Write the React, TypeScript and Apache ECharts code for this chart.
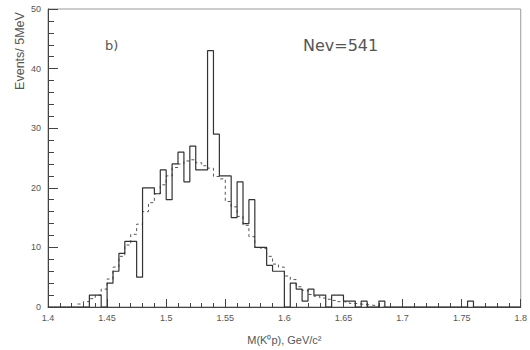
import React, { useEffect, useRef } from "react";
import * as echarts from "echarts";

// Histogram binning (GeV/c^2)
const binStart = 1.4;
const binWidth = 0.005;

// Data histogram: events per 5 MeV bin, bins 0..79 (1.400 - 1.800)
const dataCounts = [
  0, 0, 0, 0, 0, 0, 0, 2, 2, 0,
  4, 6, 9, 11, 11, 5, 20, 20, 19, 23,
  18, 24, 26, 21, 27, 23, 23, 43, 29, 22,
  22, 15, 21, 14, 18, 10, 10, 7, 6, 6,
  0, 4, 3, 1, 3, 2, 2, 0, 2, 2,
  1, 1, 0, 1, 0, 0, 1, 0, 0, 0,
  0, 0, 0, 0, 0, 0, 0, 0, 0, 0,
  0, 1, 0, 0, 0, 0, 0, 0, 0, 0,
];

// Dashed (simulation) histogram, starting at bin index dashedFirstBin
const dashedFirstBin = 5;
const dashedCounts = [
  0.5, 0.9, 1.4, 2.0, 3.0,
  4.7, 6.7, 8.5, 10.4, 12.2, 13.9, 16, 17.5, 19, 20.5,
  22, 23.4, 24, 24.5, 24.7, 24.2, 23.7, 23.3, 21.9, 21.5,
  17.7, 16.8, 15.2, 13.7, 11.8, 10, 9.8, 8.5, 7.2, 6.7,
  5.2, 4.6, 3.4, 2.8, 2.1, 1.8, 1.5, 1.3, 1.1, 0.9,
  0.8, 0.6, 0.5, 0.4, 0.3, 0.2, 0,
];

const xTicks = { min: 1.4, max: 1.8, interval: 0.05 };
const yTicks = { min: 0, max: 50, interval: 10 };

const edge = (i: number) => +(binStart + i * binWidth).toFixed(4);

function stepData(values: number[], first: number): [number, number][] {
  const pts: [number, number][] = values.map((v, k) => [edge(first + k), v]);
  pts.push([edge(first + values.length), values[values.length - 1]]);
  return pts;
}

const FONT = "'Liberation Sans', Arial, sans-serif";
const FONT2 = "'DejaVu Sans', sans-serif";
const TXT = "#555";

export default function App() {
  const ref = useRef<HTMLDivElement>(null);
  useEffect(() => {
    if (!ref.current) return;
    const chart = echarts.init(ref.current, undefined, { renderer: "svg" });
    chart.setOption({
      animation: false,
      backgroundColor: "#fff",
      grid: {
        left: 48,
        right: 8,
        top: 9,
        bottom: 37,
        show: true,
        borderColor: "#999",
        borderWidth: 1,
      },
      xAxis: {
        type: "value",
        min: xTicks.min,
        max: xTicks.max,
        interval: xTicks.interval,
        name: "M(K\u2070p), GeV/c\u00B2",
        nameLocation: "middle",
        nameGap: 27,
        nameTextStyle: { fontFamily: FONT, fontSize: 11, color: TXT },
        axisLine: { lineStyle: { color: "#444", width: 1 } },
        axisTick: { inside: true, length: 8, lineStyle: { color: "#444" } },
        minorTick: { show: true, splitNumber: 5, length: 4, lineStyle: { color: "#444" } },
        splitLine: { show: false },
        axisLabel: {
          fontFamily: FONT,
          fontSize: 9,
          color: TXT,
          margin: 6,
          formatter: (v: number) => String(parseFloat(v.toFixed(2))),
        },
      },
      yAxis: {
        type: "value",
        min: yTicks.min,
        max: yTicks.max,
        interval: yTicks.interval,
        axisLine: { show: true, lineStyle: { color: "#444", width: 1 } },
        axisTick: { show: true, inside: true, length: 10, lineStyle: { color: "#444" } },
        minorTick: { show: true, splitNumber: 5, length: 6, lineStyle: { color: "#444" } },
        splitLine: { show: false },
        axisLabel: { fontFamily: FONT, fontSize: 9, color: TXT, margin: 7 },
      },
      graphic: [
        {
          type: "text",
          x: 20,
          y: 51,
          rotation: Math.PI / 2,
          style: {
            text: "Events/ 5MeV",
            font: `12.5px ${FONT}`,
            fill: TXT,
            align: "center",
            verticalAlign: "middle",
          },
        },
        {
          type: "text",
          x: 105,
          y: 45,
          style: {
            text: "b)",
            font: `13px ${FONT2}`,
            fill: TXT,
            align: "left",
            verticalAlign: "middle",
          },
        },
        {
          type: "text",
          x: 303,
          y: 45,
          style: {
            text: "Nev=541",
            font: `16px ${FONT2}`,
            fill: TXT,
            align: "left",
            verticalAlign: "middle",
          },
        },
      ],
      series: [
        {
          type: "line",
          step: "end",
          showSymbol: false,
          data: stepData(dashedCounts, dashedFirstBin),
          lineStyle: { color: "#555", width: 1, type: [3, 3] },
          z: 2,
        },
        {
          type: "line",
          step: "end",
          showSymbol: false,
          data: stepData(dataCounts, 0),
          lineStyle: { color: "#333", width: 1.2 },
          z: 3,
        },
      ],
    });
    return () => chart.dispose();
  }, []);
  return (
    <div
      ref={ref}
      style={{ position: "fixed", left: 0, top: 0, width: 530, height: 350, background: "#fff" }}
    />
  );
}
